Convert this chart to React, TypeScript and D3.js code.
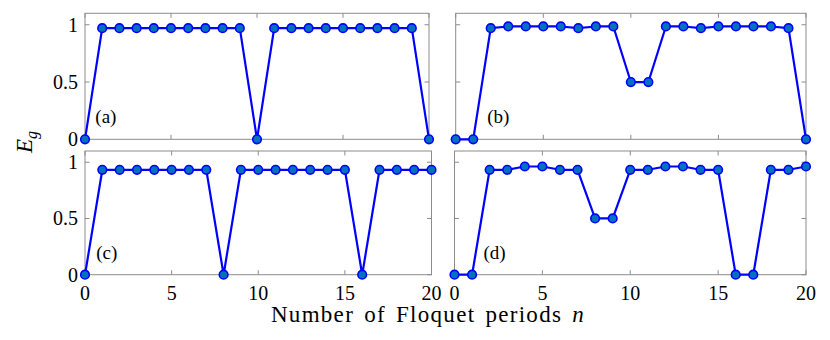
import React from 'react';
import * as d3 from 'd3';

// number of Floquet periods n = 0..20
const periods = d3.range(0, 21);

const gapA = [0, 0.97, 0.97, 0.97, 0.97, 0.97, 0.97, 0.97, 0.97, 0.97, 0, 0.97, 0.97, 0.97, 0.97, 0.97, 0.97, 0.97, 0.97, 0.97, 0];
const gapB = [0, 0, 0.97, 0.985, 0.985, 0.985, 0.985, 0.97, 0.985, 0.985, 0.5, 0.5, 0.985, 0.985, 0.97, 0.985, 0.985, 0.985, 0.985, 0.97, 0];
const gapC = [0, 0.933, 0.933, 0.933, 0.933, 0.933, 0.933, 0.933, 0, 0.933, 0.933, 0.933, 0.933, 0.933, 0.933, 0.933, 0, 0.933, 0.933, 0.933, 0.933];
const gapD = [0, 0, 0.933, 0.933, 0.962, 0.962, 0.933, 0.933, 0.5, 0.5, 0.933, 0.933, 0.962, 0.962, 0.933, 0.933, 0, 0, 0.933, 0.933, 0.962];

const xTicks = [0, 5, 10, 15, 20];
const yTicks = [0, 0.5, 1];
const panelNames = ['(a)', '(b)', '(c)', '(d)'];

const W = 830;
const H = 340;

const panels = [
  { name: panelNames[0], data: gapA, x0: 85, x1: 429, y0: 13.3, y1: 139.3, showX: false, showY: true, lx: 0.6 },
  { name: panelNames[1], data: gapB, x0: 455.7, x1: 806, y0: 13.3, y1: 139.3, showX: false, showY: false, lx: 1.8 },
  { name: panelNames[2], data: gapC, x0: 85, x1: 431.5, y0: 151, y1: 274.7, showX: true, showY: true, lx: 0.65 },
  { name: panelNames[3], data: gapD, x0: 454.5, x1: 806, y0: 151, y1: 274.7, showX: true, showY: false, lx: 1.65 },
];

function Panel({ p }: { p: typeof panels[number] }) {
  const x = d3.scaleLinear().domain([0, 20]).range([p.x0, p.x1]);
  const y = d3.scaleLinear().domain([0, 1.1]).range([p.y1, p.y0]);
  const line = d3.line<number>().x((d, i) => x(periods[i])).y(d => y(d));
  const tk = 4.5;
  const frame = '#8c8c8c';

  return (
    <g>
      <rect x={p.x0} y={p.y0} width={p.x1 - p.x0} height={p.y1 - p.y0} fill="white" stroke={frame} strokeWidth={1} />
      {xTicks.map(t => (
        <g key={'x' + t}>
          <line x1={x(t)} x2={x(t)} y1={p.y1} y2={p.y1 - tk} stroke={frame} />
          <line x1={x(t)} x2={x(t)} y1={p.y0} y2={p.y0 + tk} stroke={frame} />
          {p.showX && (
            <text x={x(t)} y={300} textAnchor="middle" fontSize={20}>{t}</text>
          )}
        </g>
      ))}
      {yTicks.map(t => (
        <g key={'y' + t}>
          <line x1={p.x0} x2={p.x0 + tk} y1={y(t)} y2={y(t)} stroke={frame} />
          <line x1={p.x1} x2={p.x1 - tk} y1={y(t)} y2={y(t)} stroke={frame} />
          {p.showY && (
            <text x={78} y={y(t)} dy="0.34em" textAnchor="end" fontSize={20}>{t}</text>
          )}
        </g>
      ))}
      <text x={x(p.lx)} y={y(0.14)} fontSize={19}>{p.name}</text>
      <path d={line(p.data) || ''} fill="none" stroke="#0000ff" strokeWidth={2.2} strokeLinejoin="round" />
      {p.data.map((d, i) => (
        <circle key={i} cx={x(periods[i])} cy={y(d)} r={4.3} fill="#0072bd" stroke="#0000ff" strokeWidth={1.6} />
      ))}
    </g>
  );
}

export default function App() {
  return (
    <div style={{ position: 'absolute', left: 0, top: 0 }}>
      <svg width={W} height={H} fontFamily="Liberation Serif" style={{ display: 'block', background: 'white' }}>
        {panels.map(p => <Panel key={p.name} p={p} />)}
        <text x={428} y={322} textAnchor="middle" fontSize={23} wordSpacing={3} letterSpacing={1.3}>
          Number of Floquet periods <tspan fontStyle="italic">n</tspan>
        </text>
        <text transform="translate(32,142) rotate(-90)" textAnchor="middle" fontSize={23}>
          <tspan fontStyle="italic">E</tspan>
          <tspan fontStyle="italic" fontSize={16} dy={5}>g</tspan>
        </text>
      </svg>
    </div>
  );
}
